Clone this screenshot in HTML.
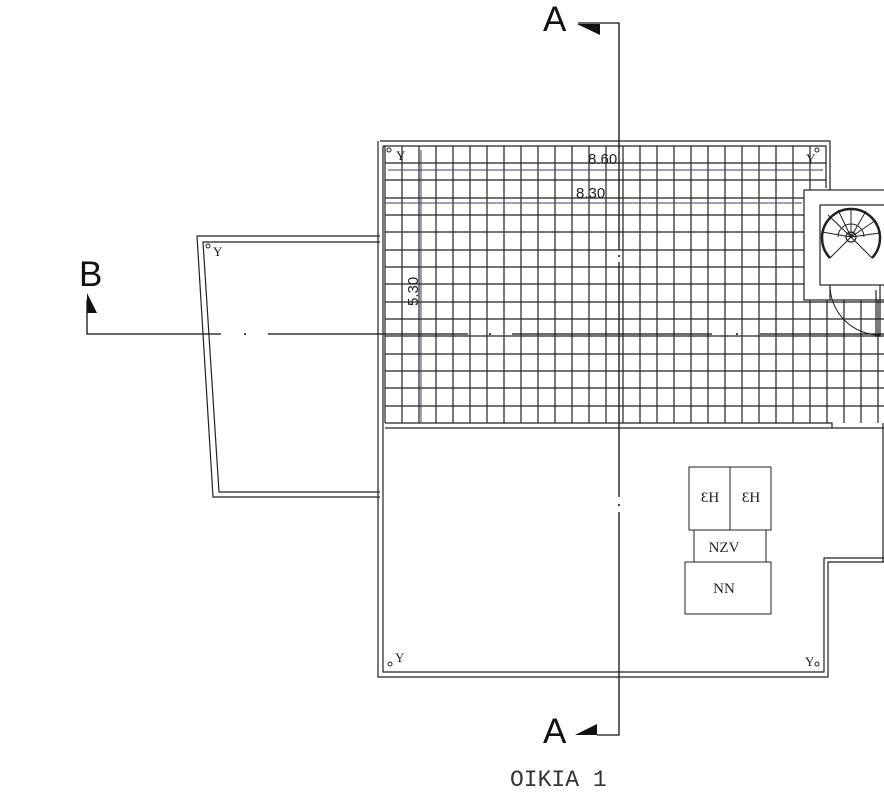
<!DOCTYPE html>
<html><head><meta charset="utf-8"><style>
html,body{margin:0;padding:0;background:#fff;}
svg{display:block;}
</style></head><body>
<svg width="884" height="811" viewBox="0 0 884 811" xmlns="http://www.w3.org/2000/svg">
<rect width="884" height="811" fill="#fff"/>
<!-- grid -->
<g stroke="#222" stroke-width="1.2" fill="none">
<path d="M402 146V423 M419 146V423 M436 146V423 M453 146V423 M470 146V423 M487 146V423 M504 146V423 M521 146V423 M538 146V423 M555 146V423 M572 146V423 M589 146V423 M606 146V423 M623 146V423 M640 146V423 M657 146V423 M674 146V423 M691 146V423 M708 146V423 M725 146V423 M742 146V423 M759 146V423 M776 146V423 M793 146V423 M810 146V423 M827 190V423 M844 190V423 M861 190V423 M878 190V423"/>
<path d="M385 163H826 M385 180H826 M385 198H884 M385 215H884 M385 232H884 M385 250H884 M385 267H884 M385 284H884 M385 302H884 M385 319H884 M385 336H884 M385 354H884 M385 371H884 M385 388H884 M385 406H884"/>
</g>
<g fill="none" stroke="#222" stroke-width="1.2">
<path d="M380 141 H830 V190"/>
<path d="M383 146 H826 V188"/>
<path d="M378 141 V677 H828 V562 H884"/>
<path d="M383 146 V672 H824 V558 H884"/>
<path d="M385 146 V423"/>
<path d="M385 423 H832 V428 H884 M385 428 H832"/>
<path d="M883 423 V562"/>
<path d="M380 236 H197 L213 497 H380"/>
<path d="M380 242 H203 L219 492 H380"/>
<rect x="804" y="190" width="90" height="110" fill="#fff"/>
<rect x="820" y="205" width="70" height="80" fill="#fff"/>
<path d="M830 300 V285" />
<path d="M830 285 A50 50 0 0 0 880 335" stroke-width="1"/>
<path d="M876 290 V337 M880 285 V337"/>
</g>
<g fill="none" stroke="#222">
<path d="M830 258 A29 29 0 1 1 872 258" stroke-width="2.5"/>
<circle cx="851" cy="237" r="5" stroke-width="1.2"/>
<path d="M851 237 L830 258 M851 237 L822 232 M851 237 L828 215 M851 237 L838 210 M851 237 L851 208 M851 237 L866 211 M851 237 L876 220 M851 237 L880 233 M851 237 L872 258" stroke-width="1"/>
<path d="M838 237 A13 13 0 0 1 864 237" stroke-width="1"/>
</g>
<g stroke="#4a3a6a" stroke-width="1" fill="none">
<path d="M388 170 H823"/>
<path d="M384 203 H802"/>
<path d="M421 150 V422"/>
</g>
<g font-family="Liberation Sans, sans-serif" font-size="15" fill="#222">
<text x="588" y="164">8.60</text>
<text x="576" y="198">8.30</text>
<text x="0" y="0" transform="translate(418,306) rotate(-90)">5.30</text>
</g>
<g font-family="Liberation Serif, serif" font-size="13" fill="#222">
<text x="396" y="160">Y</text>
<text x="806" y="163">Y</text>
<text x="213" y="256">Y</text>
<text x="395" y="662">Y</text>
<text x="805" y="666">Y</text>
</g>
<g fill="none" stroke="#222" stroke-width="1">
<circle cx="389" cy="150" r="2"/><circle cx="817" cy="150" r="2"/>
<circle cx="208" cy="246" r="2"/><circle cx="390" cy="664" r="2"/><circle cx="817" cy="664" r="2"/>
</g>
<g fill="#fff" stroke="#222" stroke-width="1">
<rect x="689" y="467" width="41" height="63"/>
<rect x="730" y="467" width="41" height="63"/>
<rect x="694" y="530" width="72" height="32"/>
<rect x="685" y="562" width="86" height="52"/>
</g>
<g font-family="Liberation Serif, serif" font-size="15" fill="#222" text-anchor="middle">
<text x="710" y="502">ƐH</text>
<text x="751" y="502">ƐH</text>
<text x="724" y="552">NZV</text>
<text x="724" y="593">NN</text>
</g>
<g stroke="#111" stroke-width="1.3" fill="none">
<path d="M578 23 H619 V250 M619 262 V497 M619 512 V735 H597"/>
<path d="M87 300 V334 H221 M268 334 H468 M512 334 H712 M760 334 H884"/>
</g>
<g fill="#111">
<polygon points="577,24 600,24 600,35"/>
<polygon points="575,735 597,735 597,724"/>
<polygon points="87,293 97,313 87,313"/>
<circle cx="619" cy="256" r="1"/><circle cx="619" cy="505" r="1"/>
<circle cx="245" cy="334" r="1"/><circle cx="490" cy="334" r="1"/><circle cx="737" cy="334" r="1"/>
</g>
<g font-family="Liberation Sans, sans-serif" font-size="35" fill="#111">
<text x="543" y="31">A</text>
<text x="543" y="743">A</text>
<text x="79" y="286">B</text>
</g>
<text x="510" y="786" font-family="Liberation Mono, monospace" font-size="23" fill="#333">OIKIA 1</text>
</svg>
</body></html>
